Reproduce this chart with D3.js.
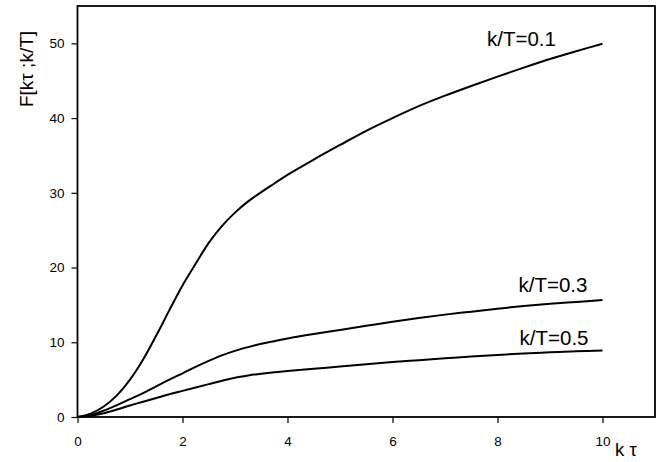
<!DOCTYPE html>
<html>
<head>
<meta charset="utf-8">
<script src="https://cdn.jsdelivr.net/npm/d3@7"></script>
<style>
  html, body { margin: 0; padding: 0; background: #fff; }
  svg { display: block; }
  text { font-family: "Liberation Sans", Arial, sans-serif; fill: #000; }
</style>
</head>
<body>
<svg id="chart" width="670" height="462"></svg>
<script>
// ---- data ----
const kValues = [0, 0.25, 0.5, 0.75, 1, 1.25, 1.5, 1.75, 2, 2.25, 2.5, 2.75, 3, 3.25, 3.5, 3.75, 4,
                 4.5, 5, 5.5, 6, 6.5, 7, 7.5, 8, 8.5, 9, 9.5, 10];
const f01 = [0, 0.45, 1.4, 2.9, 5.0, 7.7, 10.9, 14.3, 17.6, 20.5, 23.3, 25.55, 27.35, 28.85, 30.1, 31.25, 32.4,
             34.45, 36.4, 38.3, 40.0, 41.6, 43.0, 44.3, 45.55, 46.75, 47.9, 48.95, 49.95];
const f03 = [0, 0.25, 0.85, 1.6, 2.4, 3.2, 4.1, 5.0, 5.85, 6.7, 7.5, 8.25, 8.85, 9.35, 9.8, 10.15, 10.5,
             11.1, 11.65, 12.2, 12.75, 13.25, 13.7, 14.1, 14.5, 14.85, 15.15, 15.4, 15.65];
const f05 = [0, 0.15, 0.5, 1.0, 1.55, 2.05, 2.55, 3.05, 3.5, 3.95, 4.4, 4.85, 5.25, 5.55, 5.8, 6.0, 6.15,
             6.45, 6.75, 7.05, 7.35, 7.6, 7.85, 8.1, 8.3, 8.5, 8.65, 8.8, 8.9];
const seriesNames = ["k/T=0.1", "k/T=0.3", "k/T=0.5"];
const xTicks = [0, 2, 4, 6, 8, 10];
const yTicks = [0, 10, 20, 30, 40, 50];
const xTitle = "k τ";
const yTitle = "F[kτ ;k/T]";

// ---- layout ----
const svg = d3.select("#chart");
const mLeft = 77.5, mRight = 655, mTop = 6, mBottom = 417;
const x = d3.scaleLinear().domain([0, 11]).range([mLeft, mRight]);
const y = d3.scaleLinear().domain([0, 55]).range([mBottom, mTop]);

// frame
svg.append("rect")
  .attr("x", mLeft).attr("y", mTop)
  .attr("width", mRight - mLeft).attr("height", mBottom - mTop)
  .attr("fill", "none").attr("stroke", "#000").attr("stroke-width", 1.8);

// axes
const xAxis = svg.append("g").attr("transform", `translate(0,${mBottom})`)
  .call(d3.axisBottom(x).tickValues(xTicks).tickSize(6).tickPadding(13).tickFormat(d3.format("d")));
const yAxis = svg.append("g").attr("transform", `translate(${mLeft},0)`)
  .call(d3.axisLeft(y).tickValues(yTicks).tickSize(6).tickPadding(7).tickFormat(d3.format("d")));
[xAxis, yAxis].forEach(g => {
  g.select(".domain").remove();
  g.selectAll("line").attr("stroke", "#000").attr("stroke-width", 1.2);
  g.selectAll("text").attr("font-size", 13.5).attr("font-family", "Liberation Sans, Arial, sans-serif").attr("fill", "#000");
});

// curves
const line = d3.line()
  .x((d, i) => x(kValues[i]))
  .y(d => y(d))
  .curve(d3.curveCatmullRom.alpha(0.5));
[f01, f03, f05].forEach(s => {
  svg.append("path")
    .attr("d", line(s))
    .attr("fill", "none")
    .attr("stroke", "#000")
    .attr("stroke-width", 2);
});

// curve labels
const labelPos = [[7.8, 46], [8.4, 292], [8.42, 345]];
seriesNames.forEach((n, i) => {
  svg.append("text")
    .attr("x", x(labelPos[i][0]))
    .attr("y", labelPos[i][1])
    .attr("font-size", 20.5)
    .text(n);
});

// axis titles
svg.append("text")
  .attr("x", 615).attr("y", 456)
  .attr("font-size", 18.5)
  .text(xTitle);
svg.append("text")
  .attr("transform", "translate(33,69) rotate(-90)")
  .attr("text-anchor", "middle")
  .attr("font-size", 19)
  .text(yTitle);
</script>
</body>
</html>
